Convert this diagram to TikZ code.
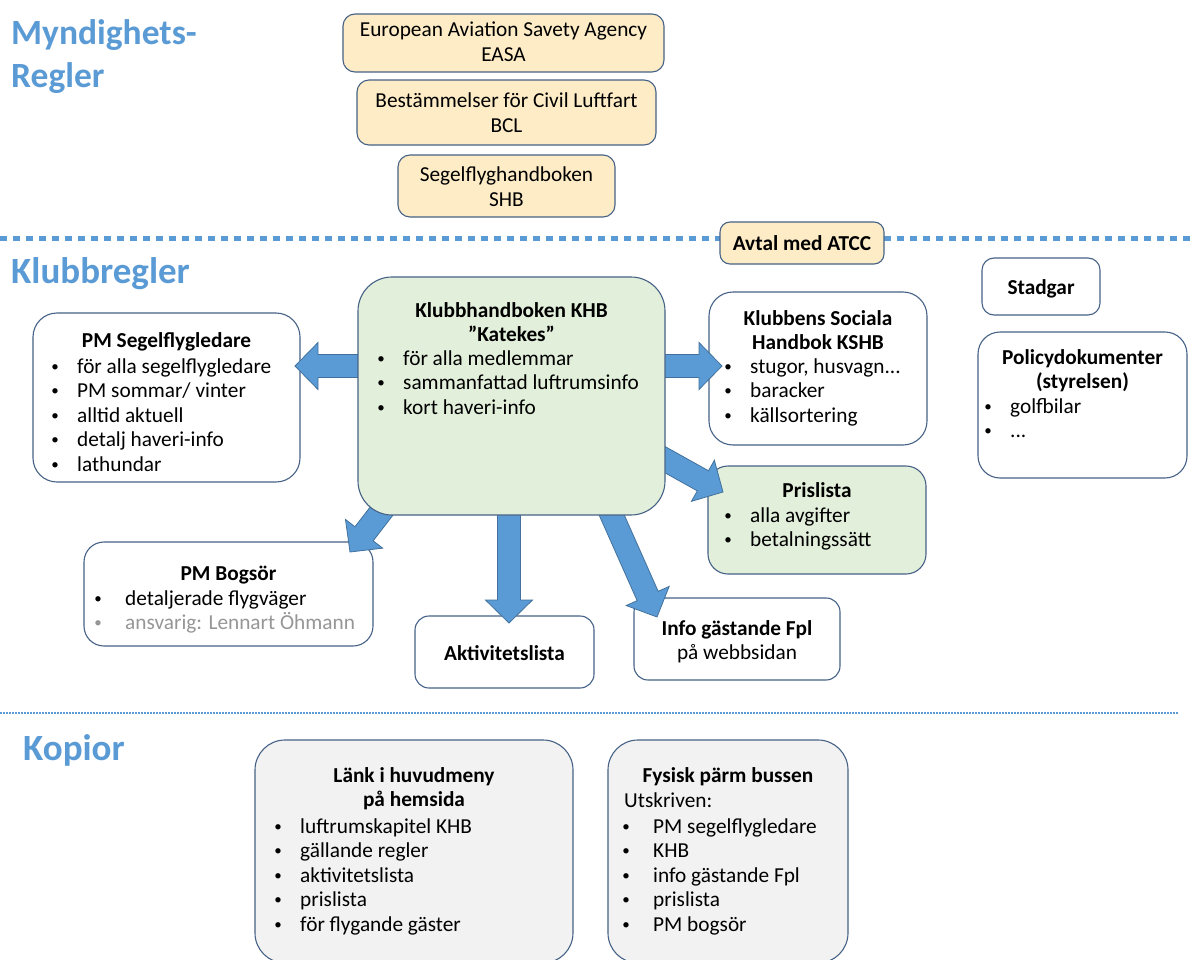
\documentclass[tikz,border=0pt]{standalone}
\usepackage{fontspec}
\setmainfont{Carlito}
\usetikzlibrary{calc}
\definecolor{hblue}{RGB}{91,155,213}
\definecolor{aline}{RGB}{65,113,156}
\definecolor{bline}{RGB}{70,98,135}
\definecolor{yfill}{RGB}{253,236,198}
\definecolor{gfill}{RGB}{226,239,218}
\definecolor{kfill}{RGB}{242,242,242}
\definecolor{gtext}{RGB}{150,150,150}
\newcommand\lns[2][c]{\begin{tabular}[t]{@{}#1@{}}#2\end{tabular}}
% small bullet centred a fixed distance left of the text start
\newcommand\dotb{\raisebox{1.6pt}{\fontsize{15}{15}\selectfont •}}
\newcommand\bi{\llap{\makebox[0pt][c]{\dotb}\hspace{22pt}}}
\newcommand\bii{\llap{\makebox[0pt][c]{\dotb}\hspace{27pt}}}
\newcommand\blockarrow[2]{%
  \coordinate (hb) at ($(#2)!23pt!(#1)$);
  \draw[barrow] ($(#1)!11.5pt!90:(#2)$) -- ($(hb)!11.5pt!90:(#2)$) -- ($(hb)!23.5pt!90:(#2)$) -- (#2)
    -- ($(hb)!23.5pt!-90:(#2)$) -- ($(hb)!11.5pt!-90:(#2)$) -- ($(#1)!11.5pt!-90:(#2)$) -- cycle;}
\tikzset{
  box/.style={draw=bline, line width=1.1pt, inner sep=0pt, outer sep=0pt},
  heading/.style={font=\fontsize{37}{43}\selectfont\bfseries, text=hblue, anchor=base west, inner sep=0pt},
  ttl/.style={font=\fontsize{21.3}{24.5}\selectfont\bfseries, anchor=base, inner sep=0pt},
  ctr/.style={font=\fontsize{21.3}{24.5}\selectfont, anchor=base, inner sep=0pt},
  txt/.style={font=\fontsize{21.3}{24.5}\selectfont, anchor=base west, inner sep=0pt},
  barrow/.style={fill=hblue, draw=aline, line width=0.8pt, line join=miter},
}
\begin{document}
\begin{tikzpicture}[x=1pt,y=-1pt]
\useasboundingbox (0,0) rectangle (1190,960);
\fill[white] (0,0) rectangle (1190,960);
% section lines
\draw[hblue, line width=5pt, dash pattern=on 7pt off 6pt] (0,238) -- (1190,238);
\draw[hblue, line width=2pt, dash pattern=on 1.5pt off 1.5pt] (0,713) -- (1178,713);
% headings
\node[heading, font=\fontsize{35.5}{43}\selectfont\bfseries] (h1) at (11,45) {\lns[l]{Myndighets-\\Regler}};
\node[heading] (h2) at (11,283) {Klubbregler};
\node[heading] (h3) at (23,760) {Kopior};
% authority boxes
\node[box, fill=yfill, rounded corners=12pt, minimum width=321pt, minimum height=58pt] (easa) at (503.5,43) {};
\node[ctr] (easat) at (503.5,37) {\lns{European Aviation Savety Agency\\EASA}};
\node[box, fill=yfill, rounded corners=12pt, minimum width=299pt, minimum height=65pt] (bcl) at (506.5,112.5) {};
\node[ctr] (bclt) at (506.5,108) {\lns{Bestämmelser för Civil Luftfart\\BCL}};
\node[box, fill=yfill, rounded corners=12pt, minimum width=217pt, minimum height=62pt] (shb) at (506.5,186) {};
\node[ctr] (shbt) at (506.5,182) {\lns{Segelflyghandboken\\SHB}};
\node[box, fill=yfill, rounded corners=10pt, minimum width=164pt, minimum height=42pt] (avtal) at (802,243) {};
\node[ttl] (avtalt) at (802,250.5) {Avtal med ATCC};
% right column
\node[box, fill=white, rounded corners=12pt, minimum width=118pt, minimum height=57pt] (stad) at (1041,286.5) {};
\node[ttl] (stadt) at (1041,294) {Stadgar};
\node[box, fill=white, rounded corners=22pt, minimum width=209pt, minimum height=146pt] (pol) at (1082.5,405) {};
\node[ttl] (polt) at (1082.5,364) {\lns{Policydokumenter\\(styrelsen)}};
\node[txt] (polb) at (1010,413) {\lns[l]{\bi golfbilar\\\bi ...}};
% club boxes
\node[box, fill=white, rounded corners=24pt, minimum width=267pt, minimum height=169pt] (pmsf) at (166.5,397.5) {};
\node[ttl] (pmsft) at (166.5,347) {PM Segelflygledare};
\node[txt] (pmsfb) at (77,373) {\lns[l]{\bi för alla segelflygledare\\\bi PM sommar/ vinter\\\bi alltid aktuell\\\bi detalj haveri-info\\\bi lathundar}};
\node[box, fill=white, rounded corners=24pt, minimum width=218pt, minimum height=153pt] (kshb) at (818,368.5) {};
\node[ttl] (kshbt) at (818,325) {\lns{Klubbens Sociala\\Handbok KSHB}};
\node[txt] (kshbb) at (750,373) {\lns[l]{\bi stugor, husvagn...\\\bi baracker\\\bi källsortering}};
\node[box, fill=gfill, rounded corners=20pt, minimum width=218pt, minimum height=108pt] (pris) at (817,520) {};
\node[ttl] (prist) at (817,497) {Prislista};
\node[txt] (prisb) at (750,522) {\lns[l]{\bi alla avgifter\\\bi betalningssätt}};
\node[box, fill=white, rounded corners=20pt, minimum width=289pt, minimum height=104pt] (bog) at (228.5,594) {};
\node[ttl] (bogt) at (228.5,580) {PM Bogsör};
\node[txt] (bogb) at (125,605) {\lns[l]{\bii detaljerade flygväger\\{\color{gtext}\bii ansvarig: Lennart Öhmann}}};
\node[box, fill=white, rounded corners=14pt, minimum width=179pt, minimum height=72pt] (akt) at (504.5,652) {};
\node[ttl] (aktt) at (504.5,660) {Aktivitetslista};
\node[box, fill=white, rounded corners=14pt, minimum width=206pt, minimum height=82pt] (info) at (737,639) {};
\node[ctr] (infot) at (737,635) {\lns{\textbf{Info gästande Fpl}\\på webbsidan}};
% arrows (behind the central box)
\coordinate (sL) at (370,366);  \coordinate (tL) at (295,366);
\coordinate (sR) at (655,366);  \coordinate (tR) at (722,366);
\coordinate (sP) at (650,451.3); \coordinate (tP) at (723,492);
\coordinate (sI) at (605,500);  \coordinate (tI) at (657,617);
\coordinate (sA) at (509,500);  \coordinate (tA) at (509,623);
\coordinate (sB) at (394,495);  \coordinate (tB) at (350,552);
\blockarrow{sL}{tL}
\blockarrow{sR}{tR}
\blockarrow{sP}{tP}
\blockarrow{sI}{tI}
\blockarrow{sA}{tA}
\blockarrow{sB}{tB}
% central box
\node[box, fill=gfill, rounded corners=34pt, minimum width=307pt, minimum height=238pt] (khb) at (511.5,396) {};
\node[ttl] (khbt) at (511.5,317) {\lns{Klubbhandboken KHB\\”Katekes”}};
\node[txt] (khbb) at (403,365) {\lns[l]{\bi för alla medlemmar\\\bi sammanfattad luftrumsinfo\\\bi kort haveri-info}};
% copies
\node[box, fill=kfill, rounded corners=30pt, minimum width=318pt, minimum height=223pt] (lank) at (414,851.5) {};
\node[ttl] (lankt) at (414,782) {\lns{Länk i huvudmeny\\på hemsida}};
\node[txt] (lankb) at (300,833) {\lns[l]{\bi luftrumskapitel KHB\\\bi gällande regler\\\bi aktivitetslista\\\bi prislista\\\bi för flygande gäster}};
\node[box, fill=kfill, rounded corners=30pt, minimum width=240pt, minimum height=223pt] (fys) at (728,851.5) {};
\node[ttl] (fyst) at (728,782) {Fysisk pärm bussen};
\node[txt] (fysu) at (624,807) {Utskriven:};
\node[txt] (fysb) at (653,833) {\lns[l]{\bii PM segelflygledare\\\bii KHB\\\bii info gästande Fpl\\\bii prislista\\\bii PM bogsör}};
\end{tikzpicture}
\end{document}
